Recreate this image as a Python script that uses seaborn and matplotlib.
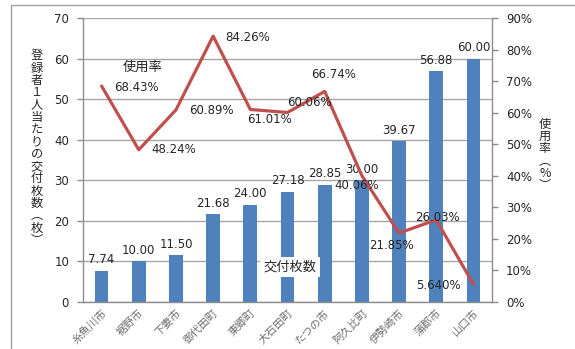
import numpy as np
import pandas as pd
import matplotlib
matplotlib.use("Agg")
import matplotlib.pyplot as plt
import seaborn as sns
from matplotlib.patches import Rectangle

categories = ["糸魚川市", "裾野市", "下妻市", "御代田町", "東郷町", "大石田町",
              "たつの市", "阿久比町", "伊勢崎市", "蒲郡市", "山口市"]
cards = [7.74, 10.00, 11.50, 21.68, 24.00, 27.18, 28.85, 30.00, 39.67, 56.88, 60.00]
usage = [68.43, 48.24, 60.89, 84.26, 61.01, 60.06, 66.74, 40.06, 21.85, 26.03, 5.64]
usage_labels = ["68.43%", "48.24%", "60.89%", "84.26%", "61.01%", "60.06%",
                "66.74%", "40.06%", "21.85%", "26.03%", "5.640%"]
left_ticks = [0, 10, 20, 30, 40, 50, 60, 70]
right_ticks = [0, 10, 20, 30, 40, 50, 60, 70, 80, 90]

# label offsets in pixels (styling only)
usage_offsets = [(35, -1), (35, 0), (35, -1), (34, -1), (19, -10), (22, 10),
                 (9, 17), (-5, -10), (-8, -12), (1, 2), (-35, -1)]

sns.set_theme(style="white")
plt.rcParams["font.family"] = ["DejaVu Sans", "Noto Sans CJK JP"]

BLUE = "#4F81BD"
RED = "#C0504D"
TXT = "#262626"
AX = "#8C8C8C"
GRID = "#A6A6A6"

fig = plt.figure(figsize=(5.75, 3.49), dpi=100)
W, H = 575, 349
ax = fig.add_axes([83 / W, 1 - 302 / H, (492 - 83) / W, (302 - 18) / H])

df = pd.DataFrame({"cat": categories, "cards": cards})
sns.barplot(data=df, x="cat", y="cards", ax=ax, color=BLUE, width=0.37,
            saturation=1, edgecolor="none", zorder=2)
ax.set_xlim(-0.5, len(categories) - 0.5)
ax.set_ylim(0, 70)
ax.set_yticks(left_ticks)
ax.set_yticklabels([str(t) for t in left_ticks], fontsize=8.5, color=TXT)
ax.yaxis.grid(True, color=GRID, linewidth=1.0, zorder=0)
ax.set_axisbelow(True)
ax.set_xlabel("")
ax.set_ylabel("")
ax.set_xticks(np.arange(len(categories)))
ax.set_xticklabels(categories, rotation=45, ha="right", rotation_mode="anchor",
                   fontsize=7.8, color="#6E6E6E", family=["Noto Sans CJK JP"])
ax.tick_params(axis="x", length=0, pad=4)
ax.set_xticks(np.arange(len(categories) + 1) - 0.5, minor=True)
ax.tick_params(axis="x", which="minor", length=4, color=AX, width=1)
ax.tick_params(axis="y", length=4, color=AX, width=1, pad=6, left=True)
for s in ["top", "right"]:
    ax.spines[s].set_visible(False)
for s in ["left", "bottom"]:
    ax.spines[s].set_color(AX)
    ax.spines[s].set_linewidth(1)

for i, v in enumerate(cards):
    ax.annotate(f"{v:.2f}", xy=(i, v), xytext=(0, 11), textcoords="offset pixels",
                ha="center", va="center", fontsize=8.5, color=TXT, zorder=5)

ax2 = ax.twinx()
sns.lineplot(x=np.arange(len(usage)), y=usage, ax=ax2, color=RED, linewidth=2.3,
             zorder=4)
ax2.set_ylim(0, 90)
ax2.set_yticks(right_ticks)
ax2.set_yticklabels([f"{t}%" for t in right_ticks], fontsize=8.5, color=TXT)
ax2.tick_params(axis="y", length=4, color=AX, width=1, pad=6, right=True)
for s in ["top", "left", "bottom"]:
    ax2.spines[s].set_visible(False)
ax2.spines["right"].set_color(AX)
ax2.spines["right"].set_linewidth(1)
ax2.grid(False)
ax2.set_xlim(-0.5, len(categories) - 0.5)

for i, (v, lab) in enumerate(zip(usage, usage_labels)):
    ax2.annotate(lab, xy=(i, v), xytext=usage_offsets[i], textcoords="offset pixels",
                 ha="center", va="center", fontsize=8.5, color=TXT, zorder=6)

# series name labels
fig.text(143 / W, 1 - 67 / H, "使用率", fontsize=9.5, color=TXT, ha="center",
         va="center", family=["Noto Sans CJK JP"])
fig.text(290 / W, 1 - 267 / H, "交付枚数", fontsize=9.5, color=TXT, ha="center",
         va="center", family=["Noto Sans CJK JP"],
         bbox=dict(facecolor="white", edgecolor="none", pad=2.5), zorder=10)

# axis titles (vertical stacked)
left_title = "登録者１人当たりの交付枚数︵枚︶"
fig.text(37 / W, 1 - 148 / H, "\n".join(left_title), fontsize=8.8, color=TXT,
         ha="center", va="center", linespacing=0.93, family=["Noto Sans CJK JP"])
right_title = "使用率︵%︶"
fig.text(545 / W, 1 - 155 / H, "\n".join(right_title), fontsize=8.8, color=TXT,
         ha="center", va="center", linespacing=0.93, family=["Noto Sans CJK JP", "DejaVu Sans"])

# outer frame
fig.patches.append(Rectangle((11 / W, -0.05), 1.2, 1 - 5 / H + 0.05,
                             transform=fig.transFigure, fill=False,
                             edgecolor="#A0A0A0", linewidth=1, zorder=0))

fig.savefig("out.png", dpi=100)
